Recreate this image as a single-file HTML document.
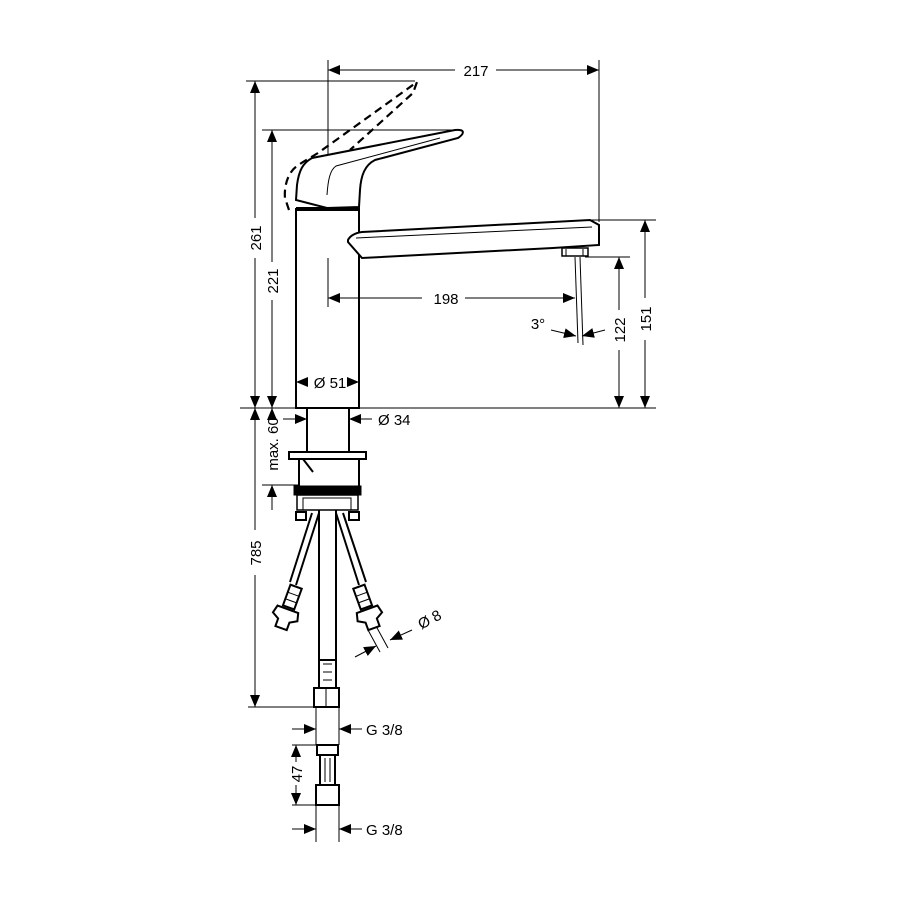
<!DOCTYPE html>
<html><head><meta charset="utf-8"><style>
html,body{margin:0;padding:0;background:#fff;width:900px;height:900px;overflow:hidden}
svg{display:block}
text{font-family:"Liberation Sans",sans-serif;font-size:15px;fill:#000}
</style></head><body>
<svg width="900" height="900" viewBox="0 0 900 900" xmlns="http://www.w3.org/2000/svg">
<defs>
<marker id="a" viewBox="0 0 12 10" refX="12" refY="5" markerWidth="12" markerHeight="10" markerUnits="userSpaceOnUse" orient="auto-start-reverse"><path d="M0,0 L12,5 L0,10 Z" fill="#000"/></marker>
</defs>
<g stroke="#000" fill="none" stroke-width="1">
<line x1="328" y1="60" x2="328" y2="193"/>
<line x1="328" y1="258" x2="328" y2="307"/>
<line x1="599" y1="60" x2="599" y2="222"/>
<line x1="246" y1="81" x2="415" y2="81"/>
<line x1="262" y1="130" x2="462" y2="130"/>
<line x1="590" y1="220" x2="656" y2="220"/>
<line x1="585" y1="257" x2="630" y2="257"/>
<line x1="240" y1="408" x2="656" y2="408"/>
<line x1="248" y1="707" x2="316" y2="707"/>
<line x1="262" y1="485" x2="300" y2="485"/>
<line x1="292" y1="745" x2="316" y2="745"/>
<line x1="292" y1="805" x2="316" y2="805"/>
<line x1="328" y1="70" x2="455" y2="70" marker-start="url(#a)"/>
<line x1="496" y1="70" x2="599" y2="70" marker-end="url(#a)"/>
<line x1="255" y1="81" x2="255" y2="218" marker-start="url(#a)"/>
<line x1="255" y1="258" x2="255" y2="408" marker-end="url(#a)"/>
<line x1="272" y1="130" x2="272" y2="262" marker-start="url(#a)"/>
<line x1="272" y1="300" x2="272" y2="408" marker-end="url(#a)"/>
<line x1="328" y1="298" x2="422" y2="298" marker-start="url(#a)"/>
<line x1="465" y1="298" x2="575" y2="298" marker-end="url(#a)"/>
<line x1="619" y1="257" x2="619" y2="310" marker-start="url(#a)"/>
<line x1="619" y1="350" x2="619" y2="408" marker-end="url(#a)"/>
<line x1="645" y1="220" x2="645" y2="298" marker-start="url(#a)"/>
<line x1="645" y1="340" x2="645" y2="408" marker-end="url(#a)"/>
<line x1="575" y1="257" x2="578" y2="343"/>
<line x1="580" y1="257" x2="583" y2="345"/>
<path d="M551,330 L576,336" marker-end="url(#a)"/>
<path d="M605,330 L582,336" marker-end="url(#a)"/>
<line x1="308" y1="382" x2="296" y2="382" marker-end="url(#a)"/>
<line x1="348" y1="382" x2="359" y2="382" marker-end="url(#a)"/>
<line x1="283" y1="419" x2="307" y2="419" marker-end="url(#a)"/>
<line x1="372" y1="419" x2="349" y2="419" marker-end="url(#a)"/>
<line x1="272" y1="414" x2="272" y2="408" marker-end="url(#a)"/>
<line x1="272" y1="510" x2="272" y2="485" marker-end="url(#a)"/>
<line x1="255" y1="408" x2="255" y2="530" marker-start="url(#a)"/>
<line x1="255" y1="575" x2="255" y2="707" marker-end="url(#a)"/>
<line x1="292" y1="729" x2="316" y2="729" marker-end="url(#a)"/>
<line x1="362" y1="729" x2="339" y2="729" marker-end="url(#a)"/>
<line x1="296" y1="745" x2="296" y2="762" marker-start="url(#a)"/>
<line x1="296" y1="785" x2="296" y2="805" marker-end="url(#a)"/>
<line x1="292" y1="829" x2="316" y2="829" marker-end="url(#a)"/>
<line x1="362" y1="829" x2="339" y2="829" marker-end="url(#a)"/>
<path d="M355,657 L376,646" marker-end="url(#a)"/>
<path d="M412,630 L390,640" marker-end="url(#a)"/>
<line x1="368" y1="630" x2="380" y2="652"/>
<line x1="376" y1="626" x2="388" y2="648"/>
<rect x="296" y="209" width="63" height="199" stroke-width="2"/>
<line x1="296" y1="209" x2="359" y2="209" stroke-width="4"/>
<path d="M296,200 L297,185 C299,170 303,163 312,158 L455,130 C466,129 464,134 458,138 L375,160 C365,165 361,175 360,190 L359,207 L327,208 L296,200 Z" stroke-width="2" fill="#fff"/>
<path d="M327,195 C328,180 330,170 336,166 L440,138" stroke-width="1"/>
<path d="M289,210 L285,198 C284,188 287,173 297,166 C304,161 310,158 318,153 L417,82 L413,93 L350,150" stroke-width="2.2" stroke-dasharray="8,5"/>
<path d="M348,240 C350,236 355,233 362,232 L590,220 L599,225 L599,245 L553,248 L362,258 L348,242 Z" stroke-width="2" fill="#fff"/>
<line x1="356" y1="238" x2="592" y2="227"/>
<rect x="562" y="248" width="26" height="8" stroke-width="1.5"/>
<line x1="566" y1="249" x2="566" y2="256"/><line x1="583" y1="249" x2="583" y2="256"/>
<rect x="307" y="408" width="42" height="44" stroke-width="2"/>
<rect x="289" y="452" width="77" height="7" stroke-width="2"/>
<line x1="303" y1="459" x2="313" y2="472" stroke-width="2"/>
<line x1="299" y1="459" x2="299" y2="486" stroke-width="2"/>
<line x1="359" y1="459" x2="359" y2="486" stroke-width="2"/>
<rect x="294" y="486" width="67" height="9" fill="#000"/>
<rect x="297" y="495" width="61" height="15" stroke-width="1.5"/>
<rect x="296" y="512" width="10" height="8" stroke-width="2"/>
<rect x="349" y="512" width="10" height="8" stroke-width="2"/>
<rect x="303" y="498" width="48" height="12"/>
<line x1="319" y1="510" x2="319" y2="660" stroke-width="2"/>
<line x1="336" y1="510" x2="336" y2="660" stroke-width="2"/>
<rect x="319" y="660" width="17" height="28" stroke-width="2"/>
<line x1="323" y1="664" x2="332" y2="664"/><line x1="323" y1="672" x2="332" y2="672"/><line x1="323" y1="680" x2="332" y2="680"/>
<rect x="314" y="688" width="25" height="19" stroke-width="2"/>
<line x1="326" y1="688" x2="326" y2="707"/>
<path d="M319,513 L296,585 M312,513 L290,582" stroke-width="2"/>
<path d="M336,513 L359,585 M343,513 L366,582" stroke-width="2"/>
<g transform="translate(292,598) rotate(20)"><rect x="-6" y="-12" width="12" height="22" stroke-width="2"/><line x1="-6" y1="-4" x2="6" y2="-4"/><line x1="-6" y1="3" x2="6" y2="3"/><path d="M-11,12 L11,12 L13,20 L6,24 L6,32 L-6,32 L-6,24 L-13,20 Z" stroke-width="2" fill="#fff"/></g>
<g transform="translate(363,598) rotate(-20)"><rect x="-6" y="-12" width="12" height="22" stroke-width="2"/><line x1="-6" y1="-4" x2="6" y2="-4"/><line x1="-6" y1="3" x2="6" y2="3"/><path d="M-11,12 L11,12 L13,20 L6,24 L6,32 L-6,32 L-6,24 L-13,20 Z" stroke-width="2" fill="#fff"/></g>
<line x1="316" y1="707" x2="316" y2="745"/>
<line x1="339" y1="707" x2="339" y2="745"/>
<rect x="317" y="745" width="21" height="10" stroke-width="2"/>
<rect x="320" y="755" width="15" height="30" stroke-width="2"/>
<line x1="325" y1="758" x2="325" y2="782"/><line x1="330" y1="758" x2="330" y2="782"/>
<rect x="316" y="785" width="23" height="20" stroke-width="2"/>
<line x1="316" y1="805" x2="316" y2="842"/>
<line x1="339" y1="805" x2="339" y2="842"/>
</g>
<g>
<text x="476" y="76" text-anchor="middle">217</text>
<text x="446" y="304" text-anchor="middle">198</text>
<text x="538" y="329" text-anchor="middle" font-size="14">3°</text>
<text x="330" y="388" text-anchor="middle">Ø 51</text>
<text x="378" y="425">Ø 34</text>
<text x="366" y="735">G 3/8</text>
<text x="366" y="835">G 3/8</text>
<text transform="translate(261,238) rotate(-90)" text-anchor="middle">261</text>
<text transform="translate(278,281) rotate(-90)" text-anchor="middle">221</text>
<text transform="translate(625,330) rotate(-90)" text-anchor="middle">122</text>
<text transform="translate(651,319) rotate(-90)" text-anchor="middle">151</text>
<text transform="translate(278,444) rotate(-90)" text-anchor="middle" font-size="14">max. 60</text>
<text transform="translate(261,553) rotate(-90)" text-anchor="middle">785</text>
<text transform="translate(302,774) rotate(-90)" text-anchor="middle">47</text>
<text transform="translate(432,624) rotate(-28)" text-anchor="middle">Ø 8</text>
</g>
</svg>
</body></html>
